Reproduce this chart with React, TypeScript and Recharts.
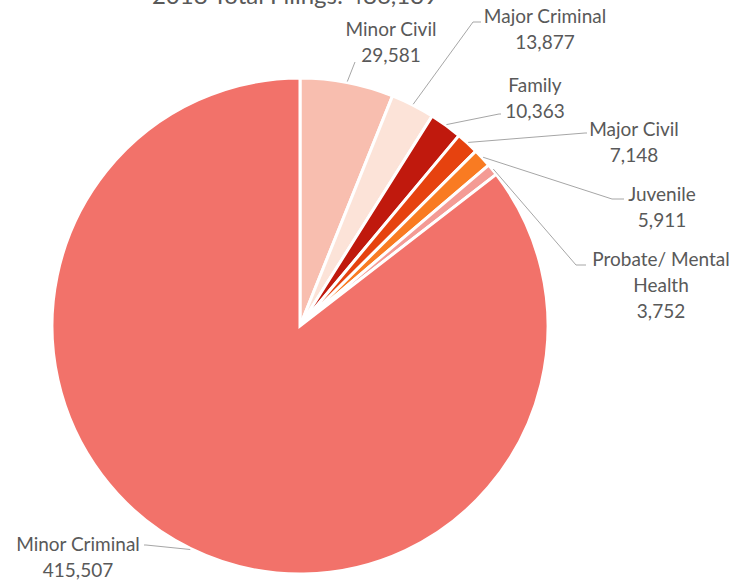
import { PieChart, Pie, Cell } from "recharts";

const categories = [
  "Minor Civil",
  "Major Criminal",
  "Family",
  "Major Civil",
  "Juvenile",
  "Probate/ Mental Health",
  "Minor Criminal",
];
const filings = [29581, 13877, 10363, 7148, 5911, 3752, 415507];
const sliceColors = ["#F8BEAF", "#FCE3D8", "#C0190D", "#E6420F", "#F97B22", "#F49B95", "#F2726A"];

// where each label sits (text centre x, first line y) and where its leader bends
const labelLayout = [
  { x: 391, y: 28, bend: [355, 62], end: [355, 62] },
  { x: 545, y: 15, bend: [473, 22], end: [481, 22] },
  { x: 535, y: 84, bend: [499, 114], end: [501, 114] },
  { x: 634, y: 128, bend: [585, 133], end: [587, 133] },
  { x: 662, y: 193, bend: [612, 199], end: [624, 199] },
  { x: 661, y: 258, bend: [576, 265], end: [586, 265] },
  { x: 78, y: 543, bend: [146, 545], end: [144, 545] },
];

const data = categories.map((name, i) => ({ name, value: filings[i] }));
const total = filings.reduce((s, v) => s + v, 0);

const RADIAN = Math.PI / 180;
const FONT = "Lato, 'Open Sans', sans-serif";

function splitName(name: string) {
  if (name.length <= 16) return [name];
  const cut = name.lastIndexOf(" ");
  return [name.slice(0, cut), name.slice(cut + 1)];
}

function renderLabel(props: any) {
  const { cx, cy, midAngle, outerRadius, index, name, value } = props;
  const layout = labelLayout[index];
  const sx = cx + (outerRadius + 1) * Math.cos(-midAngle * RADIAN);
  const sy = cy + (outerRadius + 1) * Math.sin(-midAngle * RADIAN);
  const lines = [...splitName(name), value.toLocaleString("en-US")];
  return (
    <g key={`lbl-${index}`}>
      <polyline
        points={`${sx},${sy} ${layout.bend[0]},${layout.bend[1]} ${layout.end[0]},${layout.end[1]}`}
        fill="none"
        stroke="#A6A6A6"
        strokeWidth={1}
      />
      <text x={layout.x} y={layout.y} textAnchor="middle" fill="#595959" fontSize={19} fontFamily={FONT}>
        {lines.map((l, i) => (
          <tspan key={i} x={layout.x} y={layout.y + i * 26} dominantBaseline="central">
            {l}
          </tspan>
        ))}
      </text>
    </g>
  );
}

export default function App() {
  return (
    <div style={{ width: 734, height: 581, background: "#fff" }}>
      <style>{`body{margin:0}`}</style>
      <PieChart width={734} height={581} margin={{ top: 0, right: 0, bottom: 0, left: 0 }}>
        <text x={295} y={4} textAnchor="middle" fill="#595959" fontSize={24} fontFamily={FONT}>
          {`2018 Total Filings: ${total.toLocaleString("en-US")}`}
        </text>
        <Pie
          data={data}
          dataKey="value"
          nameKey="name"
          cx={300}
          cy={326}
          outerRadius={248}
          startAngle={90}
          endAngle={-270}
          stroke="#ffffff"
          strokeWidth={3}
          label={renderLabel}
          labelLine={false}
          isAnimationActive={false}
        >
          {data.map((d, i) => (
            <Cell key={d.name} fill={sliceColors[i]} />
          ))}
        </Pie>
      </PieChart>
    </div>
  );
}
